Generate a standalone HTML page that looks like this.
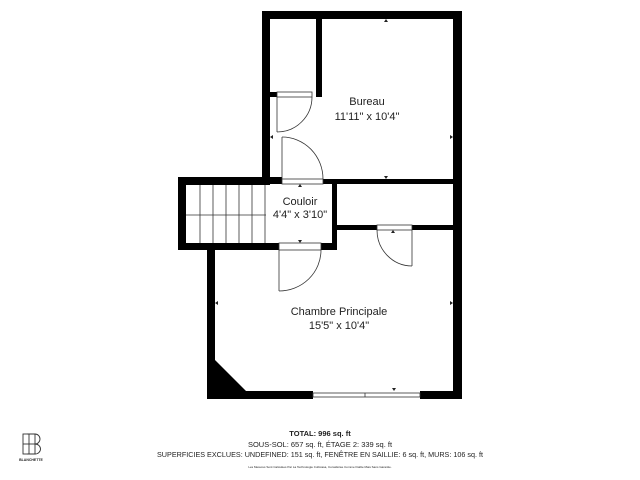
<!DOCTYPE html>
<html><head><meta charset="utf-8"><style>
html,body{margin:0;padding:0;background:#fff;width:640px;height:480px;overflow:hidden}
svg{display:block}
text{font-family:"Liberation Sans","DejaVu Sans",sans-serif;fill:#222}
</style></head><body>
<svg width="640" height="480" viewBox="0 0 640 480" xmlns="http://www.w3.org/2000/svg">
<g fill="#000">
<rect x="262" y="11" width="200" height="8"/>
<rect x="262" y="11" width="8" height="174"/>
<rect x="453" y="11" width="9" height="388"/>
<rect x="316" y="19" width="6" height="78"/>
<rect x="270" y="92" width="7" height="5"/>
<rect x="323" y="179" width="130" height="5"/>
<rect x="262" y="177" width="20" height="7"/>
<rect x="178" y="177" width="92" height="8"/>
<rect x="178" y="177" width="8" height="73"/>
<rect x="178" y="243" width="101" height="7"/>
<rect x="321" y="243" width="16" height="7"/>
<rect x="332" y="184" width="5" height="66"/>
<rect x="337" y="225" width="40" height="5"/>
<rect x="412" y="225" width="41" height="5"/>
<rect x="207" y="243" width="8" height="156"/>
<rect x="207" y="391" width="106" height="8"/>
<rect x="420" y="391" width="42" height="8"/>
<polygon points="215,360 246,391 215,391"/>
</g>
<g fill="none" stroke="#333" stroke-width="0.8">
<rect x="277" y="92" width="35" height="5"/>
<line x1="277" y1="97" x2="277" y2="132"/>
<path d="M277,132 A35,35 0 0 0 312,97"/>
<rect x="282" y="179" width="41" height="5"/>
<line x1="282" y1="179" x2="282" y2="137"/>
<path d="M282,137 A41,42 0 0 1 323,179"/>
<line x1="200" y1="185" x2="200" y2="243"/>
<line x1="213" y1="185" x2="213" y2="243"/>
<line x1="226" y1="185" x2="226" y2="243"/>
<line x1="239" y1="185" x2="239" y2="243"/>
<line x1="252" y1="185" x2="252" y2="243"/>
<line x1="265" y1="185" x2="265" y2="243"/>
<line x1="186" y1="215" x2="266" y2="215"/>
<rect x="377" y="225" width="35" height="5"/>
<line x1="412" y1="230" x2="412" y2="266"/>
<path d="M377,230 A35,36 0 0 0 412,266"/>
<rect x="279" y="243" width="42" height="7"/>
<line x1="279" y1="250" x2="279" y2="291"/>
<path d="M279,291 A42,41 0 0 0 321,250"/>
<rect x="313" y="393" width="107" height="4"/>
<line x1="365" y1="393" x2="365" y2="397"/>
</g>
<g fill="#222">
<polygon points="386,19 384,22 388,22"/>
<polygon points="386,179 384,176 388,176"/>
<polygon points="270,137 273,135 273,139"/>
<polygon points="453,137 450,135 450,139"/>
<polygon points="300,184 298,187 302,187"/>
<polygon points="300,243 298,240 302,240"/>
<polygon points="393,230 391,233 395,233"/>
<polygon points="215,303 218,301 218,305"/>
<polygon points="453,303 450,301 450,305"/>
<polygon points="394,391 392,388 396,388"/>
</g>
<text x="367" y="105" font-size="11" text-anchor="middle">Bureau</text>
<text x="367" y="120" font-size="11" text-anchor="middle">11'11" x 10'4"</text>
<text x="300" y="205" font-size="11" text-anchor="middle">Couloir</text>
<text x="300" y="218" font-size="11" text-anchor="middle">4'4" x 3'10"</text>
<text x="339" y="315" font-size="11" text-anchor="middle">Chambre Principale</text>
<text x="339" y="329" font-size="11" text-anchor="middle">15'5" x 10'4"</text>
<text x="320" y="436" font-size="7.5" font-weight="bold" text-anchor="middle">TOTAL: 996 sq. ft</text>
<text x="320" y="447" font-size="7.5" text-anchor="middle">SOUS-SOL: 657 sq. ft, ÉTAGE 2: 339 sq. ft</text>
<text x="157" y="457" font-size="7.5" textLength="326" lengthAdjust="spacingAndGlyphs">SUPERFICIES EXCLUES: UNDEFINED: 151 sq. ft, FENÊTRE EN SAILLIE: 6 sq. ft, MURS: 106 sq. ft</text>
<text x="320" y="468" font-size="3" text-anchor="middle" fill="#666">Les Mesures Sont Calculées Par La Technologie Cubicasa, Considérée Comme Fiable Mais Sans Garantie.</text>
<g fill="none" stroke="#333" stroke-width="0.9">
<rect x="23" y="434" width="12" height="20"/>
<line x1="29" y1="434" x2="29" y2="454"/>
<line x1="23" y1="444" x2="35" y2="444"/>
<path d="M27,434 H35 A5,5 0 0 1 35,444 A5.5,5 0 0 1 35,454 H27"/>
</g>
<text x="31" y="461" font-size="3.5" text-anchor="middle" font-weight="bold">BLANCHETTE</text>
</svg>
</body></html>
